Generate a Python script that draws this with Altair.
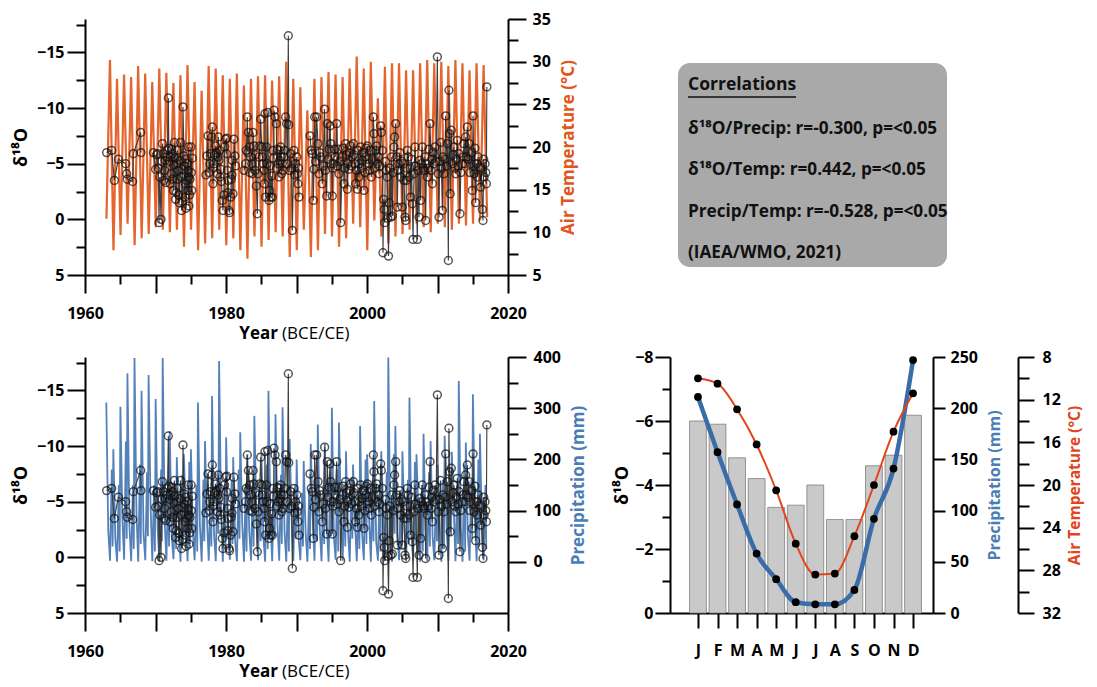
import json
import altair as alt
import numpy as np
import pandas as pd

FONT = "Open Sans"
ORANGE = "#E4652D"
ORANGE_T = "#E2561C"
BLUE = "#2B62A8"
BLUE_T = "#4A7DB6"
BLUE_M = "#3A6DA8"
RED = "#E2441C"

# ---------------- data ----------------
# Air temperature (°C): winter minima (Jan) and summer maxima (Jul), upper panel
temp_jan_years = list(range(1963, 2018))
temp_jan = [11.6, 7.9, 9.7, 11.0, 8.5, 9.3, 9.8, 10.6, 10.3, 10.0,
            10.3, 8.3, 10.3, 7.9, 8.7, 9.3, 10.3, 8.5, 9.3, 7.9,
            6.9, 9.5, 8.3, 9.1, 10.0, 9.5, 7.1, 7.9, 10.3, 7.1,
            7.9, 9.8, 9.5, 8.3, 9.3, 11.0, 10.6, 7.9, 11.4, 9.5,
            8.7, 9.5, 9.8, 10.3, 11.0, 10.6, 10.0, 11.0, 10.6, 10.3,
            11.0, 10.8, 11.0, 11.4, 11.8]
temp_jul_years = list(range(1963, 2017))
temp_jul = [30.2, 28.0, 28.5, 28.2, 29.5, 28.6, 27.6, 29.2, 28.7, 27.5,
            28.4, 29.6, 27.6, 26.6, 29.5, 29.2, 28.4, 28.0, 28.6, 27.2,
            28.0, 28.3, 28.4, 27.8, 28.3, 30.0, 28.0, 27.0, 24.3, 28.0,
            28.2, 28.8, 28.5, 28.2, 29.2, 30.6, 29.2, 30.0, 25.7, 29.4,
            29.8, 29.8, 29.0, 29.0, 29.8, 30.2, 29.8, 30.0, 29.5, 30.2,
            29.8, 29.0, 29.8, 29.6]

# Precipitation (mm), lower panel: Jan, Apr, Jul, Oct, Dec values per year
precip_years = list(range(1963, 2017))
precip_jan = [311, 220, 303, 368, 398, 334, 365, 318, 398, 255,
              204, 210, 220, 311, 236, 324, 392, 243, 204, 253,
              210, 285, 210, 334, 288, 302, 240, 200, 197, 230,
              268, 230, 301, 272, 216, 190, 265, 210, 314, 216,
              399, 265, 216, 321, 210, 250, 236, 190, 246, 215,
              353, 233, 327, 250]
precip_apr = [60, 45, 85, 70, 95, 55, 110, 65, 80, 50,
              75, 90, 60, 70, 85, 55, 100, 65, 40, 75,
              60, 95, 50, 80, 70, 60, 90, 45, 55, 85,
              65, 70, 50, 95, 60, 75, 55, 85, 40, 100,
              70, 60, 75, 55, 90, 65, 50, 80, 60, 105,
              70, 55, 85, 60]
precip_jul = [2, 0, 4, 1, 0, 3, 1, 0, 2, 5,
              0, 1, 3, 0, 2, 1, 0, 4, 1, 0,
              2, 3, 0, 1, 2, 0, 1, 3, 0, 2,
              1, 0, 4, 2, 0, 1, 3, 0, 2, 1,
              0, 3, 1, 2, 0, 1, 3, 0, 2, 1,
              0, 2, 1, 3]
precip_oct = [180, 150, 235, 150, 190, 175, 150, 180, 160, 140,
              170, 195, 150, 160, 130, 175, 150, 160, 180, 150,
              160, 140, 190, 150, 170, 150, 150, 135, 140, 160,
              150, 175, 180, 150, 165, 130, 200, 160, 150, 175,
              210, 140, 160, 195, 150, 175, 150, 160, 170, 150,
              190, 160, 200, 150]
precip_dec = [30, 20, 45, 25, 35, 50, 20, 40, 30, 25,
              45, 35, 20, 40, 30, 55, 25, 35, 45, 20,
              30, 40, 25, 50, 35, 20, 45, 30, 25, 40,
              35, 50, 20, 30, 45, 25, 35, 40, 20, 30,
              55, 25, 35, 45, 20, 30, 40, 25, 50, 35,
              20, 45, 30, 25]
precip_month_frac = [0.02, 0.30, 0.55, 0.80, 0.92]

# Monthly δ18O of precipitation (decimal year, ‰)
d18o_points = [
    (1963.07, -6.0), (1963.78, -6.2), (1964.16, -3.5), (1964.73, -5.4), (1965.77, -5.0),
    (1965.91, -4.1), (1966.00, -3.6), (1966.76, -3.4), (1966.86, -5.9), (1967.90, -7.8),
    (1967.94, -6.0),
    (1969.69, -6.0), (1970.02, -4.5), (1970.15, -5.8), (1970.31, -5.9), (1970.40, -4.6),
    (1970.50, 0.3), (1970.60, -3.8), (1970.78, 0.0), (1970.90, -5.2), (1970.97, -6.8),
    (1971.10, -5.9), (1971.21, -3.5), (1971.30, -4.4), (1971.35, -5.3), (1971.45, -3.3),
    (1971.58, -5.6), (1971.70, -6.2), (1971.82, -10.9), (1971.90, -6.4), (1971.95, -5.2),
    (1972.06, -5.6), (1972.10, -3.2), (1972.20, -4.1), (1972.30, -6.3), (1972.39, -5.9),
    (1972.45, -3.6), (1972.53, -2.6), (1972.60, -4.9), (1972.67, -6.9), (1972.75, -5.5),
    (1972.86, -1.8), (1972.95, -2.4), (1973.00, -5.0), (1973.10, -6.2), (1973.15, -3.6),
    (1973.24, -4.4), (1973.30, -2.2), (1973.38, -1.5), (1973.48, -5.3), (1973.55, -6.9),
    (1973.62, -3.8), (1973.71, -0.8), (1973.80, -1.6), (1973.85, -4.5), (1973.90, -10.1),
    (1974.04, -5.7), (1974.10, -4.8), (1974.18, -2.0), (1974.25, -3.2), (1974.28, -5.4),
    (1974.35, -1.0), (1974.42, -3.5), (1974.50, -5.0), (1974.56, -2.6), (1974.60, -4.4),
    (1974.66, -6.5), (1974.70, -3.8), (1974.75, -1.2), (1974.85, -2.2), (1974.89, -3.6),
    (1975.04, -6.5), (1975.08, -4.2), (1975.13, -2.6), (1975.20, -5.5),
    (1977.15, -4.0), (1977.30, -5.7), (1977.45, -7.5), (1977.59, -4.2), (1977.70, -5.0),
    (1977.82, -5.9), (1977.97, -7.4), (1978.06, -8.3), (1978.15, -3.2), (1978.20, -4.6),
    (1978.30, -5.0), (1978.40, -5.8), (1978.53, -6.6), (1978.65, -6.0), (1978.77, -4.1),
    (1978.85, -5.6), (1978.91, -7.4), (1979.00, -5.3), (1979.10, -6.2), (1979.15, -3.8),
    (1979.24, -4.5), (1979.35, -3.4), (1979.48, -1.7), (1979.57, -0.8), (1979.70, -2.2),
    (1979.80, -6.5), (1979.95, -7.2), (1980.05, -5.9), (1980.10, -7.3), (1980.19, -4.4),
    (1980.25, -2.4), (1980.33, -3.5), (1980.42, -0.8), (1980.50, -0.6), (1980.66, -2.0),
    (1980.75, -3.6), (1980.85, -4.0), (1980.90, -5.3), (1981.00, -2.3), (1981.13, -7.2),
    (1981.27, -5.7), (1981.35, -4.8),
    (1982.55, -4.4), (1982.79, -5.0), (1982.88, -6.2), (1983.02, -9.2), (1983.10, -6.0),
    (1983.17, -7.8), (1983.36, -6.5), (1983.40, -4.2), (1983.50, -5.6), (1983.64, -5.0),
    (1983.73, -4.1), (1983.85, -7.8), (1983.97, -6.6), (1984.11, -4.4), (1984.20, -5.8),
    (1984.30, -3.0), (1984.44, -0.5), (1984.55, -4.1), (1984.68, -5.6), (1984.80, -6.6),
    (1984.92, -9.0), (1985.06, -6.5), (1985.15, -5.6), (1985.25, -5.0), (1985.39, -4.4),
    (1985.45, -3.2), (1985.53, -9.5), (1985.62, -2.0), (1985.72, -6.5), (1985.80, -5.0),
    (1985.91, -9.6), (1986.10, -1.7), (1986.19, -2.6), (1986.25, -4.8), (1986.33, -2.0),
    (1986.48, -3.9), (1986.57, -2.0), (1986.67, -6.2), (1986.75, -5.5), (1986.81, -9.8),
    (1986.95, -9.2), (1987.14, -8.6), (1987.20, -4.6), (1987.28, -6.3), (1987.42, -5.0),
    (1987.52, -3.8), (1987.55, -6.2), (1987.61, -5.3), (1987.75, -6.5), (1987.85, -5.6),
    (1987.89, -4.1), (1987.99, -5.0), (1988.10, -4.4), (1988.22, -5.6), (1988.35, -6.2),
    (1988.46, -9.2), (1988.60, -8.6), (1988.70, -5.0), (1988.84, -16.5), (1988.90, -8.5),
    (1989.00, -4.4), (1989.17, -5.9), (1989.30, -4.6), (1989.41, 1.0), (1989.64, -6.2),
    (1989.75, -4.0), (1989.88, -5.0), (1990.05, -5.6), (1990.12, -4.1), (1990.21, -3.2),
    (1990.28, -4.6), (1990.35, -2.0),
    (1991.91, -7.5), (1992.10, -6.2), (1992.25, -5.9), (1992.39, -1.7), (1992.48, -4.5),
    (1992.58, -9.2), (1992.70, -5.2), (1992.86, -9.2), (1993.05, -6.8), (1993.19, -4.1),
    (1993.30, -6.0), (1993.43, -5.6), (1993.66, -3.2), (1993.80, -4.8), (1993.99, -9.9),
    (1994.10, -4.4), (1994.28, -2.1), (1994.37, -8.6), (1994.50, -5.4), (1994.61, -6.3),
    (1994.75, -8.4), (1994.85, -6.8), (1994.94, -5.0), (1995.08, -2.1), (1995.15, -4.6),
    (1995.22, -5.0), (1995.41, -6.3), (1995.50, -5.6), (1995.70, -8.6), (1995.80, -4.8),
    (1995.89, -6.3), (1996.03, -4.1), (1996.15, -5.2), (1996.26, 0.3), (1996.50, -5.6),
    (1996.60, -6.4), (1996.74, -3.2), (1996.85, -4.6), (1996.97, -6.8), (1997.10, -5.8),
    (1997.21, -2.7), (1997.30, -5.0), (1997.45, -4.5), (1997.55, -6.0), (1997.68, -6.6),
    (1997.80, -4.8), (1997.92, -5.6), (1998.06, -6.8), (1998.15, -5.8), (1998.25, -5.0),
    (1998.39, -3.2), (1998.50, -4.4), (1998.63, -2.7), (1998.75, -6.2), (1998.86, -3.8),
    (1998.95, -5.0), (1999.10, -6.5), (1999.20, -4.6), (1999.34, -5.3), (1999.45, -6.0),
    (1999.57, -2.6), (1999.70, -4.2), (1999.81, -5.6), (1999.90, -6.4), (2000.05, -6.6),
    (2000.15, -5.4), (2000.28, -5.0), (2000.40, -4.4), (2000.50, -6.2), (2000.61, -3.8),
    (2000.75, -5.4), (2000.90, -9.2), (2000.99, -7.7), (2001.10, -4.6), (2001.23, -6.2),
    (2001.35, -6.6), (2001.47, -5.0), (2001.60, -5.6), (2001.70, -4.1), (2001.80, -4.8),
    (2001.94, -8.4), (2002.03, -7.8), (2002.17, -6.2), (2002.27, 3.0), (2002.36, -1.8),
    (2002.45, -0.9), (2002.51, 0.3), (2002.60, -5.2), (2002.75, -4.4), (2002.88, -3.8),
    (2002.95, -0.1), (2003.05, 3.3), (2003.15, -1.5), (2003.25, -4.6), (2003.36, -0.2),
    (2003.50, -5.6), (2003.59, -0.3), (2003.70, -4.2), (2003.83, -6.5), (2003.92, -7.4),
    (2004.07, -8.6), (2004.20, -5.6), (2004.30, -1.1), (2004.40, -4.4), (2004.54, -5.0),
    (2004.65, -6.0), (2004.78, -3.8), (2004.90, -5.2), (2005.01, -1.1), (2005.10, -5.0),
    (2005.25, -3.5), (2005.39, -0.2), (2005.49, 0.1), (2005.58, -3.5), (2005.65, -4.6),
    (2005.72, -6.2), (2005.85, -5.6), (2005.96, -3.8), (2006.10, -4.6), (2006.19, -2.0),
    (2006.30, -5.4), (2006.43, -1.4), (2006.53, 1.8), (2006.67, -4.1), (2006.81, -6.5),
    (2006.90, -4.8), (2007.14, 1.8), (2007.25, -4.4), (2007.38, -0.2), (2007.47, -5.3),
    (2007.61, -1.7), (2007.70, -5.0), (2007.85, -6.5), (2007.95, -4.6), (2008.09, -4.4),
    (2008.20, -5.6), (2008.32, 0.1), (2008.45, -5.0), (2008.56, -3.8), (2008.70, -4.6),
    (2008.80, -6.3), (2008.94, -8.6), (2009.10, -4.4), (2009.17, -5.4), (2009.27, -3.2),
    (2009.40, -6.0), (2009.50, -5.0), (2009.65, -6.5), (2009.80, -5.2), (2009.98, -14.6),
    (2010.12, -4.1), (2010.21, -0.2), (2010.30, -5.2), (2010.45, -6.9), (2010.55, -4.6),
    (2010.69, -0.8), (2010.78, -5.6), (2010.92, -4.1), (2011.05, -5.4), (2011.16, -9.3),
    (2011.30, -4.8), (2011.40, -6.8), (2011.54, 3.7), (2011.62, -11.6), (2011.70, -7.7),
    (2011.80, -2.3), (2011.96, -8.0), (2012.10, -5.0), (2012.20, -5.8), (2012.34, -6.5),
    (2012.45, -4.6), (2012.58, -4.1), (2012.70, -5.4), (2012.81, -7.1), (2012.95, -4.8),
    (2013.05, -5.9), (2013.19, -0.5), (2013.30, -4.2), (2013.52, -5.0), (2013.65, -5.6),
    (2013.76, -6.8), (2013.90, -5.0), (2013.99, -7.4), (2014.10, -5.6), (2014.23, -8.3),
    (2014.35, -5.4), (2014.47, -6.8), (2014.60, -4.2), (2014.70, -5.0), (2014.85, -6.0),
    (2014.94, -2.6), (2015.04, -9.3), (2015.18, -4.1), (2015.30, -6.4), (2015.41, -1.5),
    (2015.55, -5.0), (2015.65, -3.8), (2015.75, -5.6), (2015.89, -4.7), (2016.12, -2.9),
    (2016.20, -4.6), (2016.36, -0.9), (2016.45, 0.1), (2016.55, -5.4), (2016.60, -3.8),
    (2016.74, -5.0), (2016.85, -4.2), (2016.93, -3.2), (2017.00, -11.9),
]
# breaks in the δ18O record (no samples)
d18o_gaps = [1969.0, 1976.0, 1982.0, 1991.5]

# Monthly means (lower right panel)
months = list(range(1, 13))
month_labels = ["J", "F", "M", "A", "M", "J", "J", "A", "S", "O", "N", "D"]
month_d18o = [-6.0, -5.9, -4.85, -4.2, -3.3, -3.37, -4.0, -2.92, -2.92, -4.6, -4.93, -6.18]
month_precip = [211, 157, 106, 58, 33, 10.5, 8.5, 8.5, 22.5, 92, 141, 247]
month_temp = [10.0, 10.5, 12.9, 16.2, 20.5, 25.5, 28.4, 28.3, 24.8, 20.0, 15.0, 11.4]

corr_title = "Correlations"
corr_lines = [
    "δ¹⁸O/Precip: r=-0.300, p=<0.05",
    "δ¹⁸O/Temp: r=0.442, p=<0.05",
    "Precip/Temp: r=-0.528, p=<0.05",
    "(IAEA/WMO, 2021)",
]

# ---------------- tables ----------------
rows = []
for i, yr in enumerate(temp_jan_years):
    rows.append((yr + 0.04, temp_jan[i]))
    if i < len(temp_jul):
        rows.append((temp_jul_years[i] + 0.54, temp_jul[i]))
temp_df = pd.DataFrame(rows, columns=["t", "v"])

rows = []
for i, yr in enumerate(precip_years):
    vals = [precip_jan[i], precip_apr[i], precip_jul[i], precip_oct[i], precip_dec[i]]
    for f, v in zip(precip_month_frac, vals):
        rows.append((yr + f, v))
precip_df = pd.DataFrame(rows, columns=["t", "v"])

d18_df = pd.DataFrame(d18o_points, columns=["t", "v"]).sort_values("t").reset_index(drop=True)
d18_df["seg"] = np.searchsorted(d18o_gaps, d18_df["t"].values)

month_df = pd.DataFrame({"m": months, "d18": month_d18o, "p": month_precip, "T": month_temp})
month_df["m0"] = month_df["m"] - 0.43
month_df["m1"] = month_df["m"] + 0.43
month_df["zero"] = 0.0

# ---------------- time-series panels ----------------
PW, PH = 423, 256


def xs():
    return alt.Scale(domain=[1960, 2020], nice=False, zero=False)


def d18s():
    return alt.Scale(domain=[-18, 5], reverse=True, nice=False, zero=False)


def x_none():
    return alt.X("t:Q", scale=xs(), axis=None)


def x_major():
    return alt.X("t:Q", scale=xs(), axis=alt.Axis(
        orient="bottom", values=list(range(1960, 2021, 10)), format="d",
        labelExpr="datum.value % 20 == 0 ? datum.label : ''",
        tickSize=18, labelPadding=12, title=None))


def x_minor():
    return alt.X("t:Q", scale=xs(), axis=alt.Axis(
        orient="bottom", values=list(range(1965, 2020, 10)), labels=False,
        tickSize=9, domain=False, title=None))


def d18_axis():
    return alt.Axis(orient="left", values=[-15, -10, -5, 0, 5], tickSize=18,
                    labelPadding=3, title="δ¹⁸O", titleFontSize=18, titlePadding=6)


def d18_minor_axis():
    return alt.Axis(orient="left", values=[-17.5, -12.5, -7.5, -2.5, 2.5],
                    labels=False, tickSize=9, domain=False, title=None)


def year_title():
    a = alt.Chart(pd.DataFrame({"s": ["Year"]})).mark_text(
        font=FONT, fontSize=17, fontWeight="bold", align="right", baseline="middle",
        color="black").encode(text="s:N", x=alt.value(193), y=alt.value(315))
    b = alt.Chart(pd.DataFrame({"s": ["(BCE/CE)"]})).mark_text(
        font=FONT, fontSize=17, fontWeight="normal", align="left", baseline="middle",
        color="black").encode(text="s:N", x=alt.value(197), y=alt.value(315))
    return [a, b]


def ts_panel(series_df, series_scale, series_axis, series_minor_axis, color, opacity, width):
    s_line = alt.Chart(series_df).mark_line(
        color=color, strokeWidth=width, opacity=opacity).encode(
        x=x_none(), y=alt.Y("v:Q", scale=series_scale(), axis=series_axis))
    s_minor = alt.Chart(series_df).mark_point(opacity=0).encode(
        x=x_none(), y=alt.Y("v:Q", scale=series_scale(), axis=series_minor_axis))
    d_minor = alt.Chart(d18_df).mark_point(opacity=0).encode(
        x=x_minor(), y=alt.Y("v:Q", scale=d18s(), axis=d18_minor_axis()))
    d_line = alt.Chart(d18_df).mark_line(color="#3c3c3c", strokeWidth=1.1).encode(
        x=x_major(), y=alt.Y("v:Q", scale=d18s(), axis=d18_axis()), detail="seg:N")
    d_pts = alt.Chart(d18_df).mark_point(
        shape="circle", filled=False, color="#111111", size=62, strokeWidth=1.5).encode(
        x=x_none(), y=alt.Y("v:Q", scale=d18s(), axis=None))
    return alt.layer(s_line, s_minor, d_minor, d_line, d_pts, *year_title()).resolve_scale(
        x="independent", y="independent").properties(width=PW, height=PH)


def temp_scale():
    return alt.Scale(domain=[5, 35], nice=False, zero=False)


temp_axis = alt.Axis(orient="right", values=list(range(5, 36, 5)), tickSize=18,
                     labelPadding=6, title="Air Temperature (°C)", titleColor=ORANGE_T,
                     titleAngle=270, titleBaseline="top", titlePadding=10, titleFontSize=17)
temp_minor_axis = alt.Axis(orient="right", values=[7.5, 12.5, 17.5, 22.5, 27.5, 32.5],
                           labels=False, tickSize=10, domain=False, title=None)


def precip_scale():
    return alt.Scale(domain=[-100, 400], nice=False, zero=False)


precip_axis = alt.Axis(orient="right", values=[0, 100, 200, 300, 400], tickSize=18,
                       labelPadding=7, title="Precipitation (mm)", titleColor=BLUE_T,
                       titleAngle=270, titleBaseline="top", titlePadding=10, titleFontSize=17)
precip_minor_axis = alt.Axis(orient="right", values=[50, 150, 250, 350], labels=False,
                             tickSize=10, domain=False, title=None)

tl = ts_panel(temp_df, temp_scale, temp_axis, temp_minor_axis, ORANGE, 1.0, 2.2)
bl = ts_panel(precip_df, precip_scale, precip_axis, precip_minor_axis, BLUE, 0.8, 1.8)

# ---------------- monthly panel ----------------
label_expr = json.dumps(month_labels) + "[datum.value - 1]"


def mx():
    return alt.Scale(domain=[-0.43, 13.02], nice=False, zero=False)


def md():
    return alt.Scale(domain=[-8, 0], reverse=True, nice=False, zero=False)


def mp():
    return alt.Scale(domain=[0, 250], nice=False, zero=False)


def mt():
    return alt.Scale(domain=[8, 32], reverse=True, nice=False, zero=False)


month_axis = alt.Axis(orient="bottom", values=months, labelExpr=label_expr, tickSize=15,
                      labelPadding=14, title=None)

bars = alt.Chart(month_df).mark_rect(fill="#C9C9C9", stroke="#7d7d7d", strokeWidth=0.8).encode(
    x=alt.X("m0:Q", scale=mx(), axis=None), x2="m1:Q",
    y=alt.Y("d18:Q", scale=md(), axis=alt.Axis(
        orient="left", values=[-8, -6, -4, -2, 0], tickSize=15, labelPadding=2,
        title="δ¹⁸O", titleFontSize=18, titlePadding=3)),
    y2="zero:Q")
bars_minor = alt.Chart(month_df).mark_point(opacity=0).encode(
    x=alt.X("m:Q", scale=mx(), axis=month_axis),
    y=alt.Y("d18:Q", scale=md(), axis=alt.Axis(orient="left", values=[-7, -5, -3, -1],
                                               labels=False, tickSize=8, domain=False,
                                               title=None)))
p_line = alt.Chart(month_df).mark_line(color=BLUE_M, strokeWidth=4.5, interpolate="monotone").encode(
    x=alt.X("m:Q", scale=mx(), axis=None),
    y=alt.Y("p:Q", scale=mp(), axis=alt.Axis(
        orient="right", values=[0, 50, 100, 150, 200, 250], tickSize=12, labelPadding=5,
        title="Precipitation (mm)", titleColor=BLUE_T, titleAngle=270, titleBaseline="top",
        titlePadding=9, titleFontSize=16)))
p_pts = alt.Chart(month_df).mark_circle(color="black", size=60, opacity=1).encode(
    x=alt.X("m:Q", scale=mx(), axis=None), y=alt.Y("p:Q", scale=mp(), axis=None))
t_line = alt.Chart(month_df).mark_line(color=RED, strokeWidth=2, interpolate="monotone").encode(
    x=alt.X("m:Q", scale=mx(), axis=None),
    y=alt.Y("T:Q", scale=mt(), axis=alt.Axis(
        orient="right", offset=85, values=[8, 12, 16, 20, 24, 28, 32], tickSize=16,
        labelPadding=8, title="Air Temperature (°C)", titleColor=RED, titleAngle=270,
        titleBaseline="top", titlePadding=7, titleFontSize=15.5)))
t_pts = alt.Chart(month_df).mark_circle(color="black", size=60, opacity=1).encode(
    x=alt.X("m:Q", scale=mx(), axis=None), y=alt.Y("T:Q", scale=mt(), axis=None))
t_minor = alt.Chart(month_df).mark_point(opacity=0).encode(
    x=alt.X("m:Q", scale=mx(), axis=None),
    y=alt.Y("T:Q", scale=mt(), axis=alt.Axis(orient="right", offset=85,
                                             values=[10, 14, 18, 22, 26, 30], labels=False,
                                             tickSize=11, domain=False, title=None)))

br = alt.layer(
    bars, bars_minor, p_line, t_line, p_pts, t_pts, t_minor
).resolve_scale(x="independent", y="independent").properties(width=263, height=PH)

# ---------------- correlation box ----------------
one = pd.DataFrame({"a": [0]})
box_layers = [
    alt.Chart(one).mark_rect(cornerRadius=12, color="#A9A9A9").encode(
        x=alt.value(0), x2=alt.value(269), y=alt.value(44), y2=alt.value(248)),
    alt.Chart(pd.DataFrame({"s": [corr_title]})).mark_text(
        font=FONT, fontSize=17.5, fontWeight="bold", align="left", baseline="middle",
        color="#111111").encode(text="s:N", x=alt.value(10), y=alt.value(66)),
    alt.Chart(one).mark_rule(color="#111111", strokeWidth=1.5).encode(
        x=alt.value(10), x2=alt.value(118), y=alt.value(78)),
]
for i, line in enumerate(corr_lines):
    box_layers.append(
        alt.Chart(pd.DataFrame({"s": [line]})).mark_text(
            font=FONT, fontSize=17.2, fontWeight="bold", align="left", baseline="middle",
            color="#111111").encode(text="s:N", x=alt.value(10), y=alt.value(110 + 41.3 * i)))
txt = alt.layer(*box_layers).properties(width=269, height=256)

# ---------------- assemble ----------------
row1 = alt.hconcat(tl, txt, spacing=101)
row2 = alt.hconcat(bl, br, spacing=26)
chart = alt.vconcat(row1, row2, spacing=7).properties(
    padding={"left": 4, "top": 3, "right": 4, "bottom": 4}
).configure_view(stroke=None).configure_axis(
    labelFont=FONT, labelFontSize=16, labelFontWeight="bold", labelColor="black",
    titleFont=FONT, titleFontWeight="bold", titleColor="black",
    domainColor="black", tickColor="black", domainWidth=2, tickWidth=2,
    grid=False, labelFlush=False, labelOverlap=False
)

chart.save("out.html", embed_options={"renderer": "svg", "actions": False})
